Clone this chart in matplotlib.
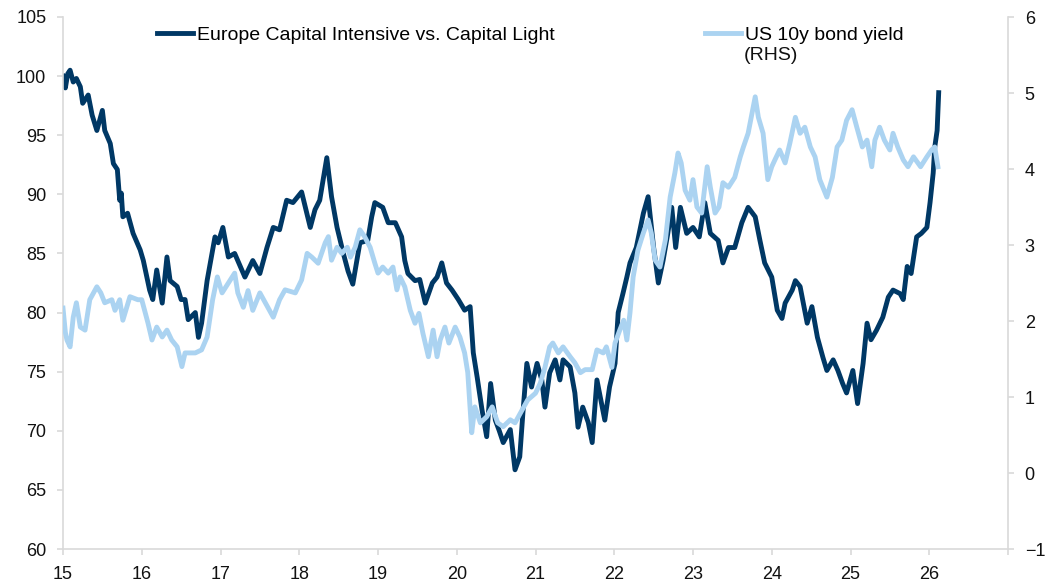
import matplotlib.pyplot as plt

plt.rcParams['font.family'] = ['Liberation Sans', 'DejaVu Sans']

# Europe capital intensive vs capital light (LHS), x = decimal year (yy)
eu_t = [15.00, 15.03, 15.06, 15.09, 15.13, 15.17, 15.22, 15.25, 15.32, 15.37,
        15.43, 15.50, 15.53, 15.60, 15.64, 15.69, 15.72, 15.74, 15.76, 15.82,
        15.89, 15.98, 16.02, 16.10, 16.14, 16.19, 16.26, 16.32, 16.36, 16.45,
        16.50, 16.55, 16.59, 16.68, 16.72, 16.76, 16.83, 16.87, 16.93, 16.97,
        17.03, 17.10, 17.18, 17.31, 17.41, 17.50, 17.59, 17.67, 17.75, 17.84,
        17.92, 18.03, 18.14, 18.20, 18.26, 18.35, 18.41, 18.48, 18.56, 18.62,
        18.68, 18.77, 18.87, 18.92, 18.96, 19.06, 19.13, 19.22, 19.30, 19.34,
        19.38, 19.47, 19.53, 19.60, 19.69, 19.75, 19.81, 19.87, 19.94, 20.02,
        20.10, 20.17, 20.21, 20.26, 20.32, 20.38, 20.43, 20.49, 20.54, 20.59,
        20.68, 20.74, 20.80, 20.84, 20.89, 20.95, 21.02, 21.08, 21.12, 21.18,
        21.25, 21.31, 21.35, 21.44, 21.50, 21.54, 21.60, 21.67, 21.72, 21.78,
        21.88, 21.94, 22.01, 22.05, 22.11, 22.16, 22.20, 22.28, 22.37, 22.43,
        22.50, 22.56, 22.62, 22.68, 22.73, 22.78, 22.84, 22.92, 23.00, 23.08,
        23.15, 23.22, 23.32, 23.38, 23.45, 23.53, 23.62, 23.70, 23.79, 23.85,
        23.91, 24.00, 24.07, 24.13, 24.17, 24.26, 24.30, 24.36, 24.45, 24.51,
        24.58, 24.65, 24.70, 24.78, 24.84, 24.90, 24.95, 25.03, 25.09, 25.16,
        25.21, 25.26, 25.33, 25.41, 25.48, 25.54, 25.63, 25.67, 25.72, 25.77,
        25.84, 25.90, 25.97, 26.01, 26.05, 26.07, 26.10, 26.12]
eu_val = [100.0, 99.0, 100.2, 100.5, 99.5, 99.8, 99.1, 97.7, 98.4, 96.7,
          95.4, 97.1, 95.4, 94.3, 92.6, 92.1, 89.5, 90.1, 88.1, 88.4,
          86.7, 85.3, 84.4, 81.9, 81.1, 83.6, 80.8, 84.7, 82.7, 82.2,
          81.1, 81.1, 79.4, 80.0, 77.9, 79.1, 82.7, 84.2, 86.4, 85.9,
          87.2, 84.7, 85.0, 83.0, 84.4, 83.3, 85.5, 87.2, 87.0, 89.5,
          89.3, 90.2, 87.2, 88.7, 89.5, 93.1, 89.8, 87.2, 85.0, 83.5,
          82.4, 85.9, 86.1, 88.1, 89.3, 88.9, 87.6, 87.6, 86.4, 84.4,
          83.3, 82.7, 82.8, 80.8, 82.5, 83.0, 84.2, 82.5, 81.9, 81.1,
          80.2, 80.5, 76.6, 74.5, 71.8, 69.5, 74.0, 70.9, 70.0, 69.0,
          70.1, 66.7, 67.8, 71.5, 75.7, 73.7, 75.7, 74.3, 72.0, 74.9,
          76.0, 74.3, 76.0, 75.4, 73.2, 70.3, 72.0, 70.7, 69.0, 74.3,
          70.9, 73.7, 75.7, 80.0, 81.6, 83.0, 84.2, 85.5, 88.4, 89.8,
          85.5, 82.5, 84.4, 86.7, 88.9, 85.5, 88.9, 86.7, 87.2, 86.4,
          89.3, 86.7, 86.1, 84.2, 85.5, 85.5, 87.6, 88.9, 88.1, 86.1,
          84.2, 83.0, 80.2, 79.5, 80.8, 81.9, 82.7, 82.2, 79.1, 80.5,
          77.9, 76.2, 75.1, 76.0, 75.1, 74.0, 73.2, 75.1, 72.3, 75.7,
          79.1, 77.7, 78.5, 79.6, 81.3, 81.9, 81.6, 81.1, 83.9, 83.3,
          86.4, 86.7, 87.2, 89.3, 91.8, 94.0, 95.4, 98.6]

# US 10y bond yield (RHS)
us_t = [15.00, 15.03, 15.05, 15.09, 15.13, 15.17, 15.22, 15.28, 15.34, 15.43,
        15.48, 15.53, 15.62, 15.66, 15.72, 15.76, 15.85, 15.95, 16.00, 16.08,
        16.13, 16.19, 16.26, 16.32, 16.38, 16.45, 16.51, 16.55, 16.68, 16.76,
        16.83, 16.90, 16.96, 17.02, 17.10, 17.18, 17.22, 17.29, 17.35, 17.41,
        17.50, 17.59, 17.67, 17.75, 17.82, 17.95, 18.03, 18.10, 18.16, 18.24,
        18.33, 18.37, 18.41, 18.48, 18.54, 18.61, 18.65, 18.71, 18.77, 18.83,
        18.90, 18.96, 19.00, 19.06, 19.13, 19.19, 19.24, 19.28, 19.34, 19.41,
        19.47, 19.52, 19.57, 19.64, 19.70, 19.75, 19.79, 19.85, 19.90, 19.98,
        20.04, 20.10, 20.14, 20.19, 20.23, 20.30, 20.38, 20.45, 20.52, 20.59,
        20.68, 20.74, 20.83, 20.90, 21.00, 21.06, 21.12, 21.18, 21.22, 21.29,
        21.35, 21.44, 21.50, 21.57, 21.63, 21.72, 21.78, 21.86, 21.90, 21.97,
        22.01, 22.07, 22.12, 22.16, 22.20, 22.24, 22.30, 22.37, 22.43, 22.47,
        22.52, 22.58, 22.65, 22.71, 22.77, 22.81, 22.85, 22.90, 22.96, 23.00,
        23.05, 23.11, 23.18, 23.22, 23.28, 23.33, 23.38, 23.45, 23.53, 23.60,
        23.64, 23.70, 23.75, 23.79, 23.83, 23.89, 23.95, 24.00, 24.04, 24.10,
        24.17, 24.23, 24.30, 24.36, 24.42, 24.49, 24.55, 24.61, 24.70, 24.77,
        24.83, 24.89, 24.95, 25.02, 25.08, 25.15, 25.21, 25.27, 25.31, 25.37,
        25.43, 25.50, 25.54, 25.60, 25.67, 25.73, 25.80, 25.89, 25.97, 26.03,
        26.07, 26.11]
us_val = [2.17, 1.85, 1.75, 1.66, 2.05, 2.24, 1.92, 1.88, 2.28, 2.45,
          2.37, 2.24, 2.28, 2.14, 2.28, 2.01, 2.32, 2.28, 2.28, 1.97,
          1.75, 1.92, 1.79, 1.88, 1.75, 1.66, 1.40, 1.58, 1.58, 1.62,
          1.79, 2.28, 2.58, 2.37, 2.50, 2.63, 2.37, 2.18, 2.40, 2.14,
          2.37, 2.20, 2.05, 2.28, 2.41, 2.37, 2.54, 2.89, 2.84, 2.76,
          3.03, 3.11, 2.80, 2.97, 2.89, 2.97, 2.84, 2.97, 3.20, 3.11,
          2.97, 2.76, 2.63, 2.71, 2.63, 2.71, 2.41, 2.58, 2.45, 2.14,
          1.97, 2.10, 1.84, 1.53, 1.88, 1.53, 1.75, 1.92, 1.71, 1.92,
          1.79, 1.58, 1.32, 0.53, 0.87, 0.66, 0.74, 0.87, 0.66, 0.61,
          0.70, 0.66, 0.83, 0.96, 1.05, 1.18, 1.39, 1.66, 1.71, 1.58,
          1.66, 1.53, 1.45, 1.32, 1.36, 1.36, 1.62, 1.58, 1.66, 1.39,
          1.71, 1.88, 2.01, 1.75, 2.11, 2.58, 2.93, 3.16, 3.33, 3.16,
          2.80, 2.71, 3.07, 3.63, 3.95, 4.21, 4.08, 3.72, 3.59, 3.86,
          3.50, 3.42, 4.03, 3.76, 3.42, 3.50, 3.82, 3.76, 3.89, 4.16,
          4.29, 4.47, 4.74, 4.95, 4.68, 4.47, 3.86, 4.03, 4.12, 4.25,
          4.08, 4.34, 4.68, 4.47, 4.55, 4.29, 4.16, 3.86, 3.63, 3.89,
          4.29, 4.38, 4.64, 4.78, 4.55, 4.29, 4.38, 4.03, 4.38, 4.55,
          4.38, 4.25, 4.47, 4.29, 4.12, 4.03, 4.16, 4.03, 4.16, 4.25,
          4.29, 4.03]

x_ticks = list(range(15, 28))
x_labels = [str(y) for y in range(15, 27)] + ['']
left_ticks = list(range(60, 106, 5))
right_ticks = list(range(-1, 7))

dark = '#003865'
light = '#abd3f1'
grey = '#d9d9d9'

fig = plt.figure(figsize=(10.53, 5.86), dpi=100)
ax = fig.add_axes([63/1053, 1 - 549/586, 945/1053, 532/586])
ax2 = ax.twinx()

l1, = ax.plot(eu_t, eu_val, color=dark, lw=3.5, solid_joinstyle='round')
l2, = ax2.plot(us_t, us_val, color=light, lw=3.5, solid_joinstyle='round')

ax.set_xlim(15, 27)
ax.set_ylim(60, 105)
ax2.set_ylim(-1, 6)
ax.set_xticks(x_ticks)
ax.set_xticklabels(x_labels)
ax.set_yticks(left_ticks)
ax2.set_yticks(right_ticks)

for s in ['top', 'right']:
    ax.spines[s].set_visible(False)
for s in ['top', 'left', 'bottom']:
    ax2.spines[s].set_visible(False)
for a, names in [(ax, ['left', 'bottom']), (ax2, ['right'])]:
    for s in names:
        a.spines[s].set_color(grey)
        a.spines[s].set_linewidth(1.2)

ax.tick_params(axis='both', colors=grey, labelcolor='#111111', labelsize=13,
               length=4, width=1.2, pad=8)
ax2.tick_params(axis='y', colors=grey, labelcolor='#111111', labelsize=13,
                length=4, width=1.2, pad=8)

leg1 = ax2.legend([l1], ['Europe Capital Intensive vs. Capital Light'],
                  loc='center left', bbox_to_anchor=(0.0995, 0.966),
                  frameon=False, fontsize=14, handlelength=1.85,
                  handletextpad=0.2, borderpad=0, borderaxespad=0)
ax2.add_artist(leg1)
ax2.legend([l2], ['US 10y bond yield'],
           loc='center left', bbox_to_anchor=(0.679, 0.966),
           frameon=False, fontsize=14, handlelength=1.85,
           handletextpad=0.2, borderpad=0, borderaxespad=0)
ax2.text(0.7206, 0.9267, '(RHS)', transform=ax2.transAxes, fontsize=14,
         ha='left', va='center', color='#111111')

fig.savefig('out.png', dpi=100)
